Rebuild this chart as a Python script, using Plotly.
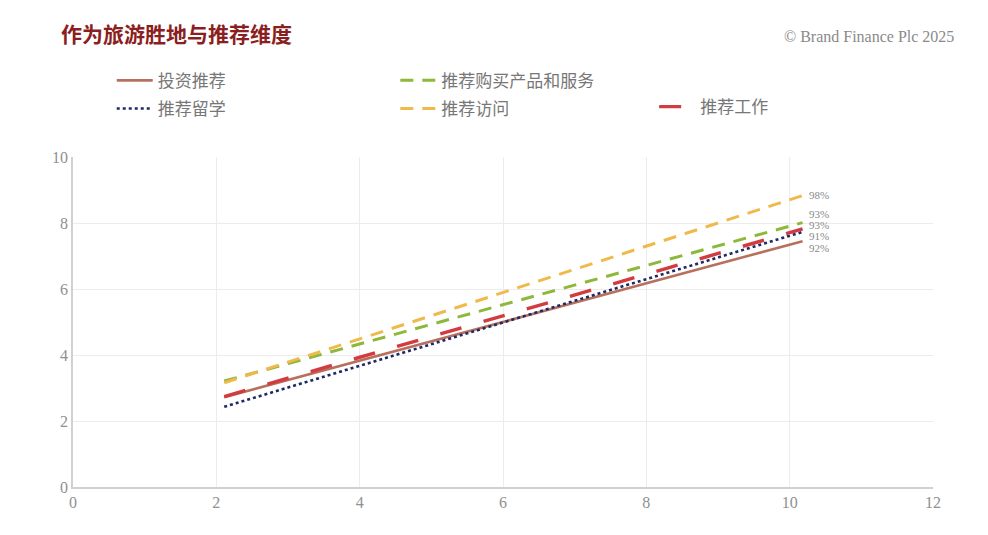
import plotly.graph_objects as go

# Data
series_names = ["投资推荐", "推荐留学", "推荐购买产品和服务", "推荐访问", "推荐工作"]
x_vals = [2.11, 10.18]
invest_vals = [2.72, 7.45]
study_vals = [2.43, 7.73]
buy_vals = [3.21, 8.01]
visit_vals = [3.16, 8.83]
work_vals = [2.74, 7.82]
end_labels = ["92%", "91%", "93%", "98%", "93%"]
label_y = [7.25, 7.6, 8.27, 8.85, 7.94]
x_ticks = [0, 2, 4, 6, 8, 10, 12]
y_ticks = [0, 2, 4, 6, 8, 10]

series_vals = [invest_vals, study_vals, buy_vals, visit_vals, work_vals]
colors = ["#B8705E", "#1E2A66", "#8DB83A", "#F0B94C", "#D23B40"]
dashes = ["solid", "dot", "13px,9px", "13px,9px", "22px,23px"]
widths = [2.6, 2.6, 3, 3, 3.4]
legends = ["legend", "legend", "legend2", "legend2", "legend3"]

fig = go.Figure()
for i, (name, vals, c, d, w, lg) in enumerate(zip(series_names, series_vals, colors, dashes, widths, legends)):
    fig.add_trace(go.Scatter(x=x_vals, y=vals, mode="lines", name=name, legendgroup=f"g{i}",
                             line=dict(color=c, dash=d, width=w), legend=lg))

for lab, ly in zip(end_labels, label_y):
    fig.add_annotation(x=x_vals[-1], y=ly, text=lab, showarrow=False, xanchor="left",
                       xshift=4, font=dict(family="Liberation Serif", size=11, color="#8a8a8a"))

legend_style = dict(orientation="v", bgcolor="rgba(0,0,0,0)",
                    font=dict(family="Noto Sans CJK SC", size=17, color="#777777"),
                    tracegroupgap=3, itemwidth=36, yanchor="top", xanchor="left",
                    xref="container", yref="container")

fig.update_layout(
    width=988, height=535,
    margin=dict(l=65, r=63, t=149, b=56, autoexpand=False),
    paper_bgcolor="white", plot_bgcolor="white",
    showlegend=True,
    legend=dict(x=0.105, y=0.8976, **legend_style),
    legend2=dict(x=0.392, y=0.8976, **legend_style),
    legend3=dict(x=0.654, y=0.8484, **legend_style),
    xaxis=dict(range=[0, 12], tickvals=x_ticks, showgrid=True, gridcolor="#ececec", gridwidth=1,
               showline=True, linecolor="#d0d0d0", linewidth=1.5, zeroline=False, ticks="",
               tickfont=dict(family="Liberation Serif", size=16, color="#909090"), fixedrange=True),
    yaxis=dict(range=[0, 10], tickvals=y_ticks, showgrid=True, gridcolor="#ececec", gridwidth=1,
               showline=True, linecolor="#d0d0d0", linewidth=1.5, zeroline=False, ticks="",
               tickfont=dict(family="Liberation Serif", size=16, color="#909090"), fixedrange=True),
)
fig.add_annotation(text="<b>作为旅游胜地与推荐维度</b>", xref="paper", yref="paper", x=-0.0167, y=1.376,
                   xanchor="left", yanchor="middle", showarrow=False,
                   font=dict(family="Noto Sans CJK SC", size=21, color="#8B1E1E"))
fig.add_annotation(text="© Brand Finance Plc 2025", xref="paper", yref="paper", x=1.027, y=1.366,
                   xanchor="right", yanchor="middle", showarrow=False,
                   font=dict(family="Liberation Serif", size=16, color="#8a8a8a"))
fig.write_html("out.html")
